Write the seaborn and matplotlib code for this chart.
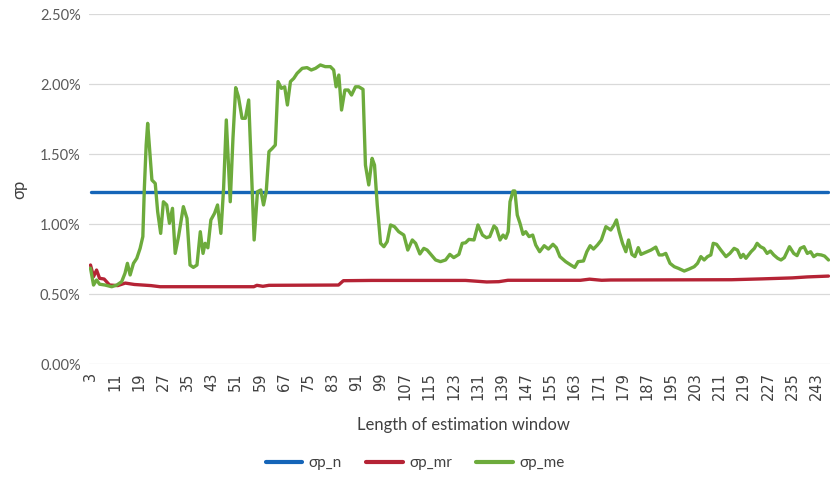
import numpy as np
import pandas as pd
import matplotlib
matplotlib.use("Agg")
import matplotlib.pyplot as plt
import seaborn as sns

# window lengths and portfolio std. dev. (%)
n_window = [3, 247]
n_sigma = [1.225, 1.225]

mr_window = [3, 4, 5, 6, 7.5, 9.3, 12, 14.5, 17.5, 23, 26, 57, 58, 60, 62, 85,
             86.6, 96, 127, 134, 138, 141, 165, 168, 172, 175, 215, 225, 235, 240, 247]
mr_sigma = [0.707, 0.624, 0.671, 0.612, 0.607, 0.564, 0.560, 0.578, 0.568, 0.560, 0.552,
            0.552, 0.562, 0.555, 0.562, 0.564, 0.595, 0.597, 0.597, 0.586, 0.588, 0.598,
            0.598, 0.606, 0.598, 0.600, 0.602, 0.608, 0.615, 0.622, 0.628]

me_window = [3, 4, 5, 6, 7.8, 10, 11.7, 13.3, 14.4, 15.2, 16.1, 17.2, 18.3, 19.4, 20.3,
             20.8, 21.4, 21.9, 22.7, 23.3, 24.4, 25.2, 26.2, 27.1, 28.2, 29.1, 30.1, 31,
             32.1, 33.7, 34.9, 35.9, 37, 38.2, 39.3, 40.2, 40.9, 41.8, 42.8, 44, 45, 46.1,
             47, 47.9, 49.2, 50.1, 51, 51.9, 53.1, 54.2, 55.3, 56, 57.1, 58.2, 59.3, 60.2,
             61.1, 62, 63.1, 64.1, 65, 66.1, 67.2, 68.1, 69.1, 70.2, 71.3, 73, 74.6, 76,
             77.4, 79, 80.6, 82.3, 83.4, 84.2, 85.1, 86, 87.1, 88.2, 89.3, 90.6, 91.7, 93.1,
             93.9, 95, 96.1, 96.9, 97.8, 98.9, 100, 101.1, 102.2, 103.5, 104.9, 106.6,
             107.9, 109.4, 110.5, 111.9, 113.2, 114.3, 115.7, 117.1, 118.7, 120.4, 121.8,
             123.1, 124.8, 125.9, 127, 128.1, 129.8, 131.1, 132.6, 133.9, 135, 136.4, 137.2,
             138.4, 139.4, 140.3, 141.1, 141.7, 142.7, 143.3, 144.1, 145, 146, 146.9, 148,
             149.2, 150.2, 151.5, 153, 154.4, 155.9, 157, 158.2, 160.1, 161.8, 163.1, 164.2,
             166, 167.1, 168.2, 169.3, 170.6, 171.9, 173.4, 175, 176.1, 176.9, 177.8, 178.9,
             180, 180.9, 182, 183, 184.1, 185, 186.6, 188.3, 189.9, 191, 192.1, 193.2, 194.6,
             196, 197.4, 199.3, 201, 202.6, 203.7, 204.8, 205.9, 207, 208.1, 208.9, 210,
             211.4, 213.1, 214.4, 215.8, 216.9, 218, 218.8, 219.7, 221.4, 222.5, 223.4,
             224.5, 225.6, 226.7, 227.8, 228.9, 230.2, 231.3, 232.4, 234.1, 235.5, 236.6,
             237.7, 238.9, 240, 241.1, 242.1, 243.2, 244.6, 245.7, 247]
me_sigma = [0.684, 0.564, 0.600, 0.570, 0.564, 0.552, 0.564, 0.588, 0.648, 0.719, 0.636,
            0.719, 0.755, 0.826, 0.910, 1.255, 1.564, 1.719, 1.490, 1.314, 1.290, 1.088,
            0.933, 1.159, 1.136, 1.005, 1.112, 0.790, 0.910, 1.124, 1.040, 0.707, 0.690,
            0.707, 0.945, 0.790, 0.862, 0.830, 1.029, 1.076, 1.136, 0.933, 1.255, 1.743,
            1.159, 1.612, 1.974, 1.910, 1.755, 1.755, 1.886, 1.493, 0.886, 1.231, 1.243,
            1.136, 1.231, 1.517, 1.540, 1.564, 2.017, 1.969, 1.980, 1.850, 2.017, 2.040,
            2.076, 2.112, 2.117, 2.100, 2.112, 2.136, 2.124, 2.124, 2.100, 1.980, 2.064,
            1.814, 1.957, 1.957, 1.921, 1.980, 1.980, 1.962, 1.421, 1.279, 1.469, 1.421,
            1.136, 0.862, 0.838, 0.874, 0.993, 0.981, 0.945, 0.921, 0.814, 0.886, 0.862,
            0.786, 0.826, 0.814, 0.779, 0.743, 0.731, 0.743, 0.783, 0.760, 0.783, 0.862,
            0.866, 0.890, 0.886, 0.993, 0.921, 0.902, 0.910, 0.986, 0.969, 0.886, 0.921,
            0.898, 0.945, 1.159, 1.236, 1.236, 1.064, 1.005, 0.926, 0.945, 0.910, 0.921,
            0.850, 0.802, 0.845, 0.821, 0.855, 0.831, 0.767, 0.731, 0.707, 0.690, 0.731,
            0.736, 0.802, 0.845, 0.821, 0.850, 0.886, 0.981, 0.957, 0.993, 1.029, 0.945,
            0.862, 0.802, 0.886, 0.783, 0.767, 0.831, 0.783, 0.798, 0.814, 0.835, 0.779,
            0.779, 0.790, 0.719, 0.695, 0.683, 0.664, 0.679, 0.695, 0.719, 0.767, 0.743,
            0.767, 0.779, 0.862, 0.855, 0.814, 0.767, 0.790, 0.826, 0.814, 0.760, 0.783,
            0.755, 0.802, 0.826, 0.862, 0.838, 0.826, 0.790, 0.807, 0.779, 0.755, 0.743,
            0.760, 0.838, 0.790, 0.774, 0.826, 0.838, 0.790, 0.802, 0.767, 0.783, 0.779,
            0.771, 0.743]

series_names = ["σp_n", "σp_mr", "σp_me"]
colors = ["#1565B8", "#B52335", "#6DAB3C"]

df = pd.concat([
    pd.DataFrame({"window": n_window, "sigma": n_sigma, "series": series_names[0]}),
    pd.DataFrame({"window": mr_window, "sigma": mr_sigma, "series": series_names[1]}),
    pd.DataFrame({"window": me_window, "sigma": me_sigma, "series": series_names[2]}),
])

sns.set_style("white")
plt.rcParams["font.family"] = ["Lato", "DejaVu Sans"]

fig = plt.figure(figsize=(8.3, 4.86), dpi=100)
ax = fig.add_axes([89 / 830, 1 - 364 / 486, 741 / 830, 350 / 486])

sns.lineplot(data=df, x="window", y="sigma", hue="series", hue_order=series_names,
             palette=colors, linewidth=2.4, sort=False, estimator=None, ax=ax,
             legend=False)

ax.set_xlim(2.5, 247.5)
ax.set_ylim(0, 2.5)
ax.set_yticks(np.arange(0, 2.51, 0.5))
ax.set_yticklabels([f"{v:.2f}%" for v in np.arange(0, 2.51, 0.5)], fontsize=10.5, color="#595959")
ax.set_xticks(range(3, 248, 8))
ax.set_xticklabels([str(v) for v in range(3, 248, 8)], rotation=90, fontsize=10.5,
                   color="#404040", family=["DejaVu Sans"])
ax.tick_params(axis="both", length=0, pad=6)
ax.grid(axis="y", color="#D9D9D9", linewidth=0.9)
ax.set_axisbelow(True)
for s in ax.spines.values():
    s.set_visible(False)

ax.set_xlabel("Length of estimation window", fontsize=12, color="#404040")
ax.xaxis.set_label_coords(0.505, -0.15)
ax.set_ylabel("σp", fontsize=12, color="#404040")
ax.yaxis.set_label_coords(-0.083, 0.5)

handles = [plt.Line2D([], [], color=c, lw=3) for c in colors]
fig.legend(handles, series_names, loc="center", bbox_to_anchor=(0.5, 1 - 463 / 486),
           ncol=3, frameon=False, fontsize=11, handlelength=2.4, handletextpad=0.4,
           columnspacing=1.6, labelcolor="#404040")

fig.savefig("out.png", dpi=100)
